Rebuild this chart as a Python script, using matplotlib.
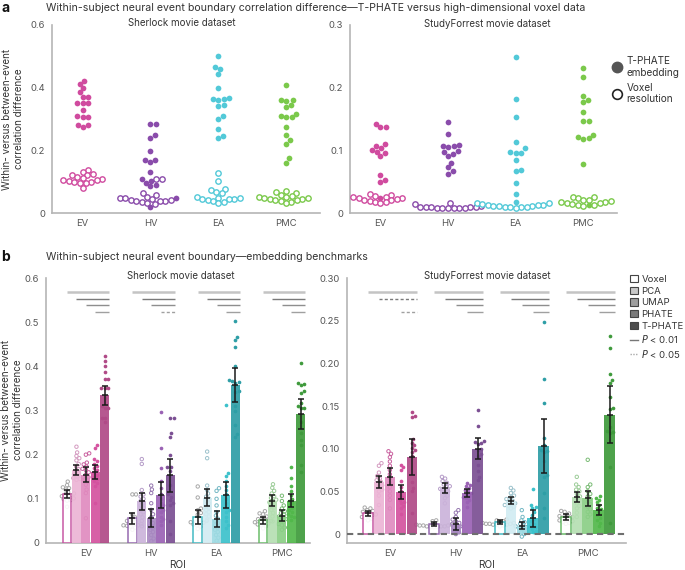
import numpy as np
import matplotlib
matplotlib.use('Agg')
import matplotlib.pyplot as plt
from matplotlib.lines import Line2D
from matplotlib.patches import Patch

plt.rcParams['font.family'] = ['Inter', 'DejaVu Sans']

rois = ['EV', 'HV', 'EA', 'PMC']
methods = ['Voxel', 'PCA', 'UMAP', 'PHATE', 'T-PHATE']

# ---- subject-level values ----
# Sherlock (16 subjects)
sher_voxel = [
    [0.139, 0.131, 0.126, 0.124, 0.121, 0.115, 0.112, 0.110, 0.108, 0.106, 0.104, 0.101, 0.099, 0.097, 0.096, 0.082],
    [0.110, 0.110, 0.065, 0.058, 0.053, 0.050, 0.048, 0.045, 0.043, 0.042, 0.040, 0.040, 0.039, 0.037, 0.035, 0.030],
    [0.128, 0.103, 0.078, 0.074, 0.068, 0.064, 0.053, 0.050, 0.048, 0.047, 0.046, 0.045, 0.042, 0.040, 0.037, 0.032],
    [0.072, 0.067, 0.065, 0.060, 0.056, 0.054, 0.052, 0.050, 0.048, 0.047, 0.045, 0.044, 0.042, 0.040, 0.038, 0.033],
]
sher_pca = [
    [0.218, 0.205, 0.197, 0.192, 0.187, 0.179, 0.173, 0.167, 0.162, 0.158, 0.155, 0.151, 0.149, 0.147, 0.145, 0.143],
    [0.190, 0.179, 0.120, 0.110, 0.105, 0.100, 0.095, 0.090, 0.085, 0.080, 0.075, 0.070, 0.065, 0.058, 0.050, 0.038],
    [0.207, 0.192, 0.130, 0.120, 0.112, 0.105, 0.100, 0.095, 0.090, 0.085, 0.080, 0.075, 0.070, 0.065, 0.060, 0.053],
    [0.133, 0.125, 0.118, 0.112, 0.106, 0.102, 0.098, 0.095, 0.092, 0.088, 0.085, 0.080, 0.075, 0.068, 0.060, 0.049],
]
sher_umap = [
    [0.203, 0.200, 0.182, 0.178, 0.173, 0.168, 0.165, 0.160, 0.155, 0.149, 0.145, 0.139, 0.132, 0.121, 0.113, 0.056],
    [0.130, 0.121, 0.113, 0.090, 0.075, 0.065, 0.058, 0.050, 0.045, 0.040, 0.035, 0.030, 0.025, 0.018, 0.010, 0.004],
    [0.124, 0.118, 0.100, 0.085, 0.070, 0.062, 0.055, 0.050, 0.045, 0.040, 0.035, 0.030, 0.025, 0.018, 0.012, 0.005],
    [0.107, 0.095, 0.085, 0.078, 0.072, 0.068, 0.064, 0.060, 0.057, 0.054, 0.050, 0.047, 0.043, 0.040, 0.035, 0.030],
]
sher_phate = [
    [0.222, 0.215, 0.190, 0.186, 0.180, 0.175, 0.170, 0.165, 0.160, 0.155, 0.150, 0.145, 0.140, 0.135, 0.128, 0.090],
    [0.297, 0.215, 0.169, 0.140, 0.125, 0.110, 0.100, 0.090, 0.085, 0.080, 0.075, 0.070, 0.060, 0.055, 0.050, 0.040],
    [0.312, 0.158, 0.152, 0.140, 0.130, 0.120, 0.110, 0.100, 0.090, 0.080, 0.075, 0.070, 0.060, 0.050, 0.040, 0.034],
    [0.173, 0.147, 0.128, 0.117, 0.108, 0.100, 0.095, 0.090, 0.085, 0.080, 0.075, 0.070, 0.066, 0.062, 0.058, 0.053],
]
sher_tphate = [
    [0.423, 0.413, 0.400, 0.387, 0.372, 0.372, 0.351, 0.351, 0.351, 0.329, 0.310, 0.306, 0.306, 0.282, 0.282, 0.274],
    [0.284, 0.284, 0.249, 0.241, 0.199, 0.171, 0.171, 0.163, 0.131, 0.110, 0.105, 0.097, 0.090, 0.086, 0.050, 0.020],
    [0.502, 0.467, 0.460, 0.443, 0.400, 0.368, 0.366, 0.364, 0.362, 0.345, 0.341, 0.310, 0.300, 0.268, 0.247, 0.240],
    [0.408, 0.362, 0.360, 0.358, 0.345, 0.340, 0.316, 0.310, 0.306, 0.306, 0.274, 0.249, 0.234, 0.221, 0.176, 0.160],
]
# StudyForrest (14 subjects)
sf_voxel = [
    [0.031, 0.030, 0.028, 0.027, 0.026, 0.025, 0.024, 0.023, 0.022, 0.021, 0.020, 0.019, 0.018, 0.016],
    [0.016, 0.015, 0.012, 0.011, 0.011, 0.010, 0.010, 0.010, 0.009, 0.009, 0.009, 0.008, 0.008, 0.008],
    [0.017, 0.016, 0.015, 0.014, 0.013, 0.013, 0.012, 0.012, 0.012, 0.011, 0.011, 0.011, 0.010, 0.009],
    [0.027, 0.026, 0.024, 0.022, 0.021, 0.020, 0.019, 0.018, 0.017, 0.016, 0.015, 0.014, 0.013, 0.012],
]
sf_pca = [
    [0.083, 0.080, 0.072, 0.068, 0.065, 0.063, 0.061, 0.059, 0.057, 0.055, 0.052, 0.050, 0.045, 0.034],
    [0.067, 0.065, 0.062, 0.060, 0.058, 0.056, 0.055, 0.053, 0.052, 0.050, 0.048, 0.045, 0.042, 0.036],
    [0.054, 0.051, 0.048, 0.045, 0.043, 0.041, 0.039, 0.038, 0.036, 0.035, 0.034, 0.033, 0.032, 0.030],
    [0.067, 0.058, 0.055, 0.052, 0.050, 0.047, 0.044, 0.042, 0.039, 0.036, 0.033, 0.030, 0.025, 0.020],
]
sf_umap = [
    [0.097, 0.094, 0.090, 0.085, 0.080, 0.075, 0.070, 0.065, 0.060, 0.055, 0.050, 0.045, 0.040, 0.030],
    [0.028, 0.025, 0.020, 0.017, 0.015, 0.013, 0.012, 0.010, 0.009, 0.008, 0.006, 0.004, 0.002, 0.000],
    [0.028, 0.020, 0.016, 0.014, 0.012, 0.010, 0.009, 0.008, 0.007, 0.006, 0.004, 0.002, 0.000, -0.003],
    [0.087, 0.058, 0.055, 0.050, 0.047, 0.044, 0.041, 0.038, 0.035, 0.032, 0.029, 0.026, 0.023, 0.020],
]
sf_phate = [
    [0.081, 0.078, 0.075, 0.062, 0.055, 0.050, 0.046, 0.043, 0.040, 0.038, 0.036, 0.033, 0.030, 0.023],
    [0.060, 0.058, 0.056, 0.054, 0.052, 0.050, 0.048, 0.047, 0.045, 0.043, 0.042, 0.040, 0.037, 0.032],
    [0.053, 0.034, 0.032, 0.030, 0.026, 0.022, 0.018, 0.015, 0.012, 0.010, 0.008, 0.006, 0.004, 0.002],
    [0.044, 0.042, 0.040, 0.037, 0.034, 0.031, 0.029, 0.027, 0.024, 0.022, 0.019, 0.016, 0.013, 0.009],
]
sf_tphate = [
    [0.143, 0.138, 0.137, 0.111, 0.107, 0.104, 0.101, 0.098, 0.096, 0.091, 0.061, 0.054, 0.050, 0.025],
    [0.145, 0.127, 0.109, 0.108, 0.107, 0.106, 0.100, 0.098, 0.094, 0.092, 0.081, 0.074, 0.067, 0.063],
    [0.249, 0.182, 0.154, 0.113, 0.104, 0.098, 0.097, 0.096, 0.085, 0.069, 0.067, 0.048, 0.031, 0.019],
    [0.232, 0.218, 0.187, 0.180, 0.177, 0.161, 0.148, 0.147, 0.125, 0.121, 0.120, 0.118, 0.079, 0.013],
]

# bar heights and error half-widths per method (rows) x ROI (cols)
sher_mean = [[0.111, 0.056, 0.059, 0.051],
             [0.166, 0.094, 0.103, 0.096],
             [0.154, 0.056, 0.055, 0.062],
             [0.160, 0.109, 0.109, 0.096],
             [0.334, 0.153, 0.358, 0.292]]
sher_err = [[0.008, 0.013, 0.016, 0.008],
            [0.011, 0.020, 0.020, 0.012],
            [0.017, 0.020, 0.018, 0.012],
            [0.016, 0.030, 0.030, 0.015],
            [0.022, 0.038, 0.039, 0.035]]
sf_mean = [[0.0245, 0.012, 0.014, 0.020],
           [0.061, 0.054, 0.039, 0.043],
           [0.067, 0.012, 0.0097, 0.042],
           [0.049, 0.048, 0.0187, 0.028],
           [0.090, 0.100, 0.103, 0.140]]
sf_err = [[0.003, 0.002, 0.002, 0.003],
          [0.007, 0.006, 0.004, 0.006],
          [0.010, 0.007, 0.004, 0.009],
          [0.008, 0.005, 0.010, 0.006],
          [0.021, 0.012, 0.032, 0.033]]

# significance of each method vs T-PHATE: 's' P<0.01, 'd' P<0.05, '' n.s.
sher_sig = [['s', 's', 's', 's'], ['s', 's', 's', 'd'], ['s', 's', 's', 's'], ['s', 's', 's', 's']]
sf_sig = [['s', 'd', '', 'd'], ['s', 's', 's', 's'], ['s', 's', 's', 's'], ['s', 's', 's', 's']]

# colours
a_colors = ['#d04b9f', '#8a4cab', '#52c9d8', '#7bc94b']
b_colors = [
    ['#c2479a', '#ecb4d5', '#e08bbf', '#d4529f', '#b04a87'],
    ['#8b5aa8', '#cbb3da', '#a98ac2', '#9a62b4', '#7b4f93'],
    ['#2fb3bd', '#d2ecf2', '#9fdbe3', '#3cc1cb', '#2e9ea6'],
    ['#5bb65a', '#b5dfb2', '#8bcf86', '#52b84b', '#3f9a3c'],
]
pt_open = [
    ['#a8a8a8', '#d49ac0', '#c9609f'],
    ['#a8a8a8', '#b59cc8', '#9677b0'],
    ['#a8a8a8', '#9cc2cc', '#74b8c4'],
    ['#a8a8a8', '#9ccc98', '#79bb74'],
]
TXT = '#333333'
TICK = '#555555'
SPINE = '#b5b5b5'

W, H = 685, 570
fig = plt.figure(figsize=(W / 100, H / 100), dpi=100)


def px_axes(x0, y0, x1, y1):
    return fig.add_axes([x0 / W, 1 - y1 / H, (x1 - x0) / W, (y1 - y0) / H])


def style(ax):
    for s in ['top', 'right']:
        ax.spines[s].set_visible(False)
    for s in ['left', 'bottom']:
        ax.spines[s].set_color(SPINE)
        ax.spines[s].set_linewidth(1.2)
    ax.tick_params(length=0, labelsize=6.8, labelcolor=TICK)
    ax.tick_params(axis='y', pad=5)
    ax.tick_params(axis='x', pad=4)


def swarm(vals, x0, sx, sy, d):
    ys = np.asarray(vals, dtype=float) * sy
    xs = np.zeros(len(ys))
    placed = []
    for i in np.argsort(ys):
        y = ys[i]
        cands = [0.0]
        for px, py in placed:
            dy = y - py
            if abs(dy) < d:
                dx = np.sqrt(d * d - dy * dy)
                cands += [px + dx, px - dx]
        cands.sort(key=abs)
        for c in cands:
            if all((c - px) ** 2 + (y - py) ** 2 >= d * d - 1e-6 for px, py in placed):
                xs[i] = c
                placed.append((c, y))
                break
    return x0 + xs / sx


def ftext(x, y, s, **kw):
    kw.setdefault('color', TXT)
    return fig.text(x / W, 1 - y / H, s, **kw)


# ---------------- panel a ----------------
def panel_a(box, voxel, tphate, ylim, yticks, ylabels):
    ax = px_axes(*box)
    style(ax)
    xlim = (-0.45, 3.5)
    ax.set_xlim(xlim)
    ax.set_ylim(ylim)
    sx = (box[2] - box[0]) / (xlim[1] - xlim[0])
    sy = (box[3] - box[1]) / (ylim[1] - ylim[0])
    for i in range(4):
        vals = list(tphate[i]) + list(voxel[i])
        xs = swarm(vals, i, sx, sy, 5.6)
        n = len(tphate[i])
        ax.scatter(xs[n:], voxel[i], s=15, facecolors='white', edgecolors=a_colors[i],
                   linewidths=1.0, zorder=3, clip_on=False)
        ax.scatter(xs[:n], tphate[i], s=17, color=a_colors[i], linewidths=0, zorder=4, clip_on=False)
    ax.set_xticks(range(4))
    ax.set_xticklabels(rois)
    ax.set_yticks(yticks)
    ax.set_yticklabels(ylabels)
    return ax


panel_a((52, 25, 320, 213.5), sher_voxel, sher_tphate, (0, 0.6), [0, 0.2, 0.4, 0.6],
        ['0', '0.2', '0.4', '0.6'])
panel_a((350, 25, 617, 213.5), sf_voxel, sf_tphate, (0, 0.3), [0, 0.1, 0.2, 0.3],
        ['0', '0.1', '0.2', '0.3'])
ftext(182, 23, 'Sherlock movie dataset', fontsize=7, ha='center', va='center')
ftext(487, 24, 'StudyForrest movie dataset', fontsize=7, ha='center', va='center')

fig.legend(handles=[Line2D([], [], ls='none', marker='o', ms=7.5, color='#555555'),
                    Line2D([], [], ls='none', marker='o', ms=7, mfc='white', mec='#222222', mew=1.2)],
           labels=['T-PHATE\nembedding', 'Voxel\nresolution'], loc='upper left',
           bbox_to_anchor=(603 / W, 1 - 47 / H), frameon=False, fontsize=7.2, handlelength=1,
           handletextpad=0.45, labelspacing=0.5, labelcolor=TXT)


# ---------------- panel b ----------------
def panel_b(box, pts, means, errs, sig, ylim, xlim, bw, yticks, ylabels, sig_levels, zero_line):
    ax = px_axes(*box)
    style(ax)
    ax.set_xlim(xlim)
    ax.set_ylim(ylim)
    sx = (box[2] - box[0]) / (xlim[1] - xlim[0])
    sy = (box[3] - box[1]) / (ylim[1] - ylim[0])
    if zero_line:
        ax.axhline(0, color='#6f6f6f', lw=1.5, ls=(0, (3, 2)), zorder=6)
    for i in range(4):
        for j in range(5):
            x = i + (j - 2) * bw
            m = means[j][i]
            c = b_colors[i][j]
            if j == 0:
                ax.bar(x, m, width=bw * 0.92, facecolor='white', edgecolor=c, lw=1.1, zorder=3, alpha=0.9)
            else:
                ax.bar(x, m, width=bw * 0.96, color=c, lw=0, zorder=3, alpha=0.92)
            vals = pts[j][i]
            xs = swarm(vals, x, sx, sy, 3.6)
            if j < 3:
                ax.scatter(xs, vals, s=6, facecolors='none', edgecolors=pt_open[i][j], linewidths=0.7, zorder=2)
            else:
                ax.scatter(xs, vals, s=7, color=b_colors[i][j], linewidths=0, zorder=2)
            ax.errorbar(x, m, yerr=errs[j][i], fmt='none', ecolor='#1a1a1a', elinewidth=1.1,
                        capsize=2.2, capthick=1.1, zorder=5)
            ax.plot(x, m, marker='_', ms=4.5, mew=1.1, color='#1a1a1a', zorder=5)
        # significance lines
        x_end = i + 2 * bw + bw * 0.48
        for j in range(4):
            st = sig[i][j]
            if not st:
                continue
            ls = '-' if st == 's' else (0, (2.2, 1.6))
            col = ['#c4c4c4', '#7a7a7a', '#8e8e8e', '#a0a0a0'][j]
            lw = 1.8 if j == 0 else 1.0
            ax.plot([i + (j - 2) * bw, x_end], [sig_levels[j]] * 2, color=col, lw=lw, ls=ls,
                    solid_capstyle='butt', zorder=4)
    ax.set_xticks(range(4))
    ax.set_xticklabels(rois)
    ax.set_yticks(yticks)
    ax.set_yticklabels(ylabels)
    ax.set_xlabel('ROI', fontsize=7.2, color=TXT, labelpad=2)
    return ax


sher_pts = [sher_voxel, sher_pca, sher_umap, sher_phate, sher_tphate]
sf_pts = [sf_voxel, sf_pca, sf_umap, sf_phate, sf_tphate]

panel_b((46, 278, 310, 543), sher_pts, sher_mean, sher_err, sher_sig, (0, 0.6), (-0.61, 3.43), 0.144,
        np.arange(0, 0.61, 0.1), ['0', '0.1', '0.2', '0.3', '0.4', '0.5', '0.6'],
        [0.5685, 0.553, 0.538, 0.523], False)
panel_b((347, 278, 626, 543), sf_pts, sf_mean, sf_err, sf_sig, (-0.0105, 0.30), (-0.65, 3.58), 0.166,
        np.arange(0, 0.301, 0.05), ['0', '0.05', '0.10', '0.15', '0.20', '0.25', '0.30'],
        [0.2835, 0.2757, 0.2679, 0.2601], True)
ftext(181, 276, 'Sherlock movie dataset', fontsize=7, ha='center', va='center')
ftext(487, 276, 'StudyForrest movie dataset', fontsize=7, ha='center', va='center')

fig.legend(handles=[Patch(facecolor='white', edgecolor='#444444', lw=0.8),
                    Patch(facecolor='#c8c8c8', edgecolor='#444444', lw=0.8),
                    Patch(facecolor='#9e9e9e', edgecolor='#444444', lw=0.8),
                    Patch(facecolor='#7a7a7a', edgecolor='#444444', lw=0.8),
                    Patch(facecolor='#4d4d4d', edgecolor='#444444', lw=0.8),
                    Line2D([], [], color='#777777', lw=1.0),
                    Line2D([], [], color='#aaaaaa', lw=1.0, ls=(0, (1, 1)))],
           labels=methods + ['$P$ < 0.01', '$P$ < 0.05'], loc='upper left',
           bbox_to_anchor=(626 / W, 1 - 271 / H), frameon=False, fontsize=6.9, handlelength=0.8,
           handleheight=0.8, handletextpad=0.4, labelspacing=0.28, labelcolor=TXT, borderaxespad=0)

# panel letters, titles, y labels
ftext(1, 8, 'a', fontsize=10, fontweight='bold', va='center', color='#111111')
ftext(46, 8,
      'Within-subject neural event boundary correlation difference\u2014T-PHATE versus high-dimensional voxel data',
      fontsize=7.6, va='center')
ftext(1, 257, 'b', fontsize=10, fontweight='bold', va='center', color='#111111')
ftext(46, 257, 'Within-subject neural event boundary\u2014embedding benchmarks', fontsize=7.6, va='center')
ylab = 'Within- versus between-event\ncorrelation difference'
ftext(13, 119, ylab, rotation=90, fontsize=7.1, ha='center', va='center', multialignment='center')
ftext(12, 410, ylab, rotation=90, fontsize=7.1, ha='center', va='center', multialignment='center')

fig.savefig('out.png', dpi=100)
